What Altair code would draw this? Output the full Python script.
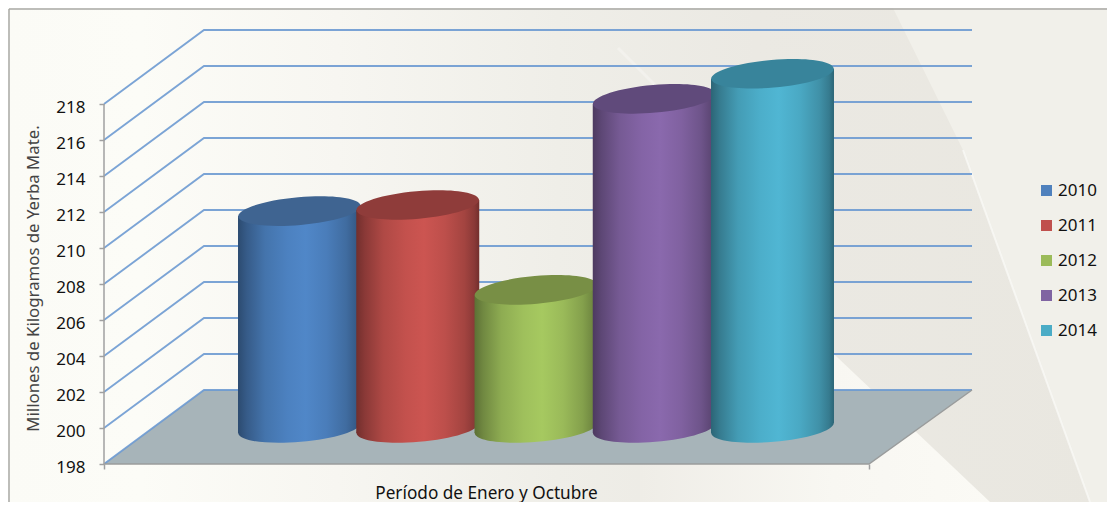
import altair as alt
import pandas as pd

# ---- values
years = ["2010", "2011", "2012", "2013", "2014"]
tops = [212.05, 212.39, 207.67, 218.29, 219.68]
cylinder_base = 200.0
base_colors = ["#4F81BD", "#C0504D", "#9BBB59", "#8064A2", "#4BACC6"]
centre_colors = ["#5087C8", "#CC5551", "#A6C960", "#8A69AD", "#50B6D3"]
top_colors = ["#3F6491", "#8F3C3A", "#788F45", "#604A7B", "#38849B"]
tick_values = list(range(198, 220, 2))
y_title = "Millones de Kilogramos de Yerba Mate."
x_title = "Período de Enero y Octubre"

# ---- frame: page pixels <-> data units
W, H = 1099, 494
PX_LEFT, PX_TOP = 8, 8
Y_PER_UNIT = 18.0
Y_AT_198 = 464.0
SLOT = 118.25
SLOT2_PX = 536.0


def X(px):
    return 2 + (px - SLOT2_PX) / SLOT


def Y(py):
    return 198 + (Y_AT_198 - py) / Y_PER_UNIT


x_scale = alt.Scale(domain=[X(PX_LEFT), X(PX_LEFT + W)], nice=False, zero=False)
y_scale = alt.Scale(domain=[Y(PX_TOP + H), Y(PX_TOP)], nice=False, zero=False)

x_axis = alt.Axis(
    values=[X(104), X(869)], labels=False, grid=False, domain=False, ticks=True, tickColor="#a0a0a0",
    tickSize=5, tickWidth=1.5, offset=-38, zindex=1, orient="bottom",
    title=x_title, titleFont="Noto Sans", titleFontSize=17.2, titleFontWeight="normal", titleColor="#111111",
    titleX=478, titleY=20, titleAnchor="middle")
y_axis = alt.Axis(
    values=tick_values, grid=False, domain=False, tickColor="#a0a0a0", tickSize=5, tickWidth=1.5,
    offset=-96, zindex=1, orient="left", format="d", labelFont="Noto Sans", labelFontSize=17,
    labelColor="#111111", labelPadding=14, labelOffset=3,
    title=y_title, titleFont="Noto Sans", titleFontSize=16.8, titleFontWeight="normal", titleColor="#444444",
    titleX=-62, titleY=270, titleAnchor="middle", titleAngle=270)

XQ = dict(type="quantitative", scale=x_scale, axis=x_axis)
YQ = dict(type="quantitative", scale=y_scale, axis=y_axis)


def shade(hexcol, f):
    c = [int(hexcol[i:i + 2], 16) for i in (1, 3, 5)]
    return "#%02x%02x%02x" % tuple(min(255, int(v * f)) for v in c)


def h_gradient(stops):
    return alt.Gradient(gradient="linear", x1=0, x2=1, y1=0, y2=0,
                        stops=[alt.GradientStop(offset=o, color=c) for o, c in stops])


def body_gradient(col):
    pts = [(0, .56), (.07, .68), (.22, .86), (.4, .96), (.55, 1.0), (.72, .93), (.88, .8), (.96, .68), (1, .56)]
    return h_gradient([(o, shade(col, f)) for o, f in pts])


def polygon(points, fill, opacity=1.0):
    d = pd.DataFrame([dict(x=X(a), y=Y(b), y2=Y(c)) for a, b, c in points])
    return alt.Chart(d).mark_area(fill=fill, opacity=opacity, orient="vertical", strokeWidth=0).encode(
        x=alt.X("x", **XQ), y=alt.Y("y", **YQ), y2="y2")


def polyline(points, color, width, opacity=1.0):
    d = pd.DataFrame([dict(x=X(a), y=Y(b)) for a, b in points])
    return alt.Chart(d).mark_line(color=color, strokeWidth=width, opacity=opacity).encode(
        x=alt.X("x", **XQ), y=alt.Y("y", **YQ))


one = pd.DataFrame({"a": [1]})
layers = []

# page background
layers.append(alt.Chart(one).mark_rect(fill=h_gradient([
    (0, "#fbfbf6"), (.12, "#fcfcf7"), (.3, "#f7f6f1"), (.5, "#efeee8"), (.68, "#ebe9e3"), (1, "#e9e7e0")
])).encode(x=alt.value(0), x2=alt.value(W), y=alt.value(0), y2=alt.value(H)))
# right-hand pale panel and its streak
layers.append(polygon([(893, 8, 8), (963, 8, 150), (1090, 8, 502), (1107, 8, 502)], "#f1f0ea"))
layers.append(polyline([(963, 150), (1090, 502)], "#fbfbf8", 2, .7))
# lower pale wedge and the short streak that starts it
layers.append(polygon([(640, 172, 502), (837, 357, 502), (990, 502, 502)],
                      h_gradient([(0, "#efede7"), (.55, "#f8f7f2"), (1, "#fbfaf5")])))
layers.append(polyline([(618, 48), (665, 95)], "#fbfbf8", 3, .4))
# frame
frame = pd.DataFrame({"x": [X(9)], "x2": [X(1107)], "y": [Y(9)], "y2": [Y(502)]})
layers.append(alt.Chart(frame).mark_rule(color="#a9a9a5", strokeWidth=1.5).encode(
    x=alt.X("x", **XQ), x2="x2", y=alt.Y("y", **YQ)))
layers.append(alt.Chart(frame).mark_rule(color="#a9a9a5", strokeWidth=1.5).encode(
    x=alt.X("x", **XQ), y=alt.Y("y", **YQ), y2="y2"))

# floor
layers.append(polygon([(104, 464, 464), (204, 390, 464), (869, 390, 464), (972, 390, 390)], "#a7b4b9"))

# wall and side gridlines
depth_units = 74 / Y_PER_UNIT
grid_rows = []
for v in tick_values:
    grid_rows += [dict(v=v, x=X(104), y=v), dict(v=v, x=X(204), y=v + depth_units),
                  dict(v=v, x=X(972), y=v + depth_units)]
layers.append(alt.Chart(pd.DataFrame(grid_rows)).mark_line(color="#6d9ad2", strokeWidth=1.9, opacity=.9).encode(
    x=alt.X("x", **XQ), y=alt.Y("y", **YQ), detail="v:N"))

# front edges of floor and value-axis line
layers.append(polyline([(104, 464), (869, 464), (972, 390)], "#9a9c9c", 1.5))
axis_line = pd.DataFrame({"x": [X(104)], "y": [198], "y2": [218]})
layers.append(alt.Chart(axis_line).mark_rule(color="#a0a0a0", strokeWidth=1.5).encode(
    x=alt.X("x", **XQ), y=alt.Y("y", **YQ), y2="y2"))

# legend carrier, hidden behind the cylinders
d_all = pd.DataFrame({"year": years, "i": range(5), "mid": [(t + cylinder_base) / 2 for t in tops]})
layers.append(alt.Chart(d_all).mark_square(size=100, opacity=1, filled=True).encode(
    x=alt.X("i", **XQ), y=alt.Y("mid", **YQ),
    color=alt.Color("year:N", scale=alt.Scale(domain=years, range=base_colors), legend=alt.Legend(
        title=None, orient="none", legendX=1030, legendY=174, symbolType="square", symbolSize=121,
        symbolStrokeWidth=0, labelFont="Noto Sans", labelFontSize=17, labelColor="#111111",
        labelOffset=3, rowPadding=17, padding=0))))

# cylinders
TILT_PATH = "M-0.9962,0.0872 A1,0.226,-5,1,1,0.9962,-0.0872 A1,0.226,-5,1,1,-0.9962,0.0872 Z"
HALF = 0.52
ELL_SIZE = (2 * HALF * SLOT) ** 2
TILT_U = 5 / Y_PER_UNIT
for i, year in enumerate(years):
    grad = body_gradient(centre_colors[i])
    row = pd.DataFrame({"i": [i], "top": [tops[i]], "base": [cylinder_base]})
    side = pd.DataFrame({
        "x": [i - HALF, i + HALF],
        "top": [tops[i] - TILT_U, tops[i] + TILT_U],
        "base": [cylinder_base - TILT_U, cylinder_base + TILT_U],
    })
    layers.append(alt.Chart(row).mark_point(shape=TILT_PATH, size=ELL_SIZE, filled=True, fill=grad, opacity=1,
                                            strokeWidth=0).encode(
        x=alt.X("i", **XQ), y=alt.Y("base", **YQ)))
    layers.append(alt.Chart(side).mark_area(fill=grad, orient="vertical", opacity=1).encode(
        x=alt.X("x", **XQ), y=alt.Y("top", **YQ), y2="base"))
    layers.append(alt.Chart(row).mark_point(shape=TILT_PATH, size=ELL_SIZE, filled=True, fill=top_colors[i],
                                            opacity=1, strokeWidth=0).encode(
        x=alt.X("i", **XQ), y=alt.Y("top", **YQ)))

chart = alt.layer(*layers).properties(
    width=W, height=H, padding=0, background="#fbfbf6",
    autosize=alt.AutoSizeParams(type="none"),
).configure_view(strokeWidth=0)

chart.save("out.html", embed_options={"renderer": "svg", "actions": False})
